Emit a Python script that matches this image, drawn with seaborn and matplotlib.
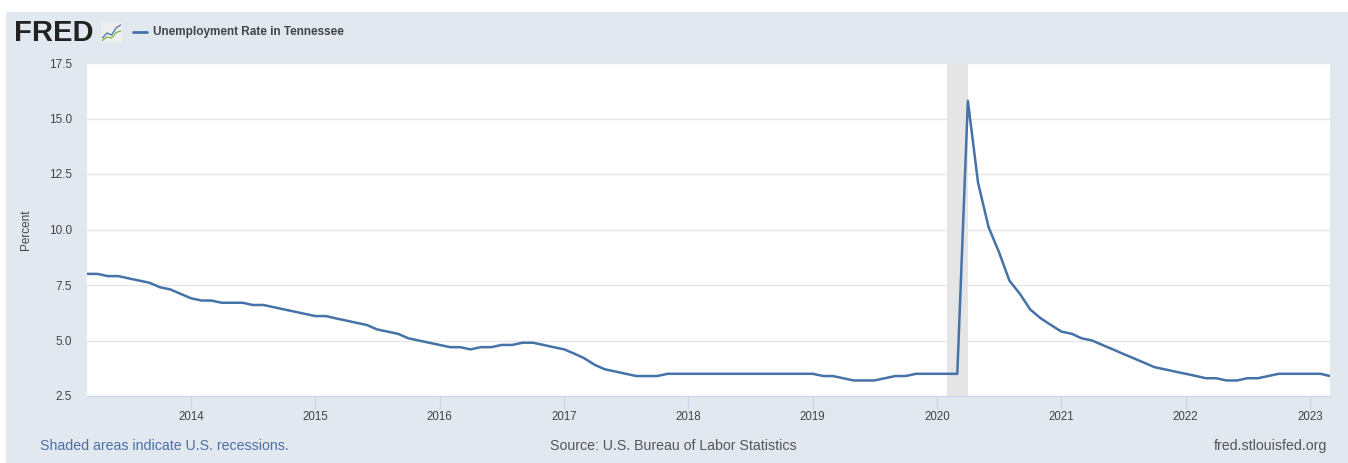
import numpy as np
import pandas as pd
import matplotlib.pyplot as plt
import matplotlib.dates as mdates
from matplotlib.patches import Rectangle
import seaborn as sns

# Monthly unemployment rate, Tennessee, Mar 2013 - Mar 2023 (percent)
start_month = '2013-03-01'
rate = [
    8.0, 8.0, 7.9, 7.9, 7.8, 7.7, 7.6, 7.4, 7.3, 7.1,            # 2013 Mar-Dec
    6.9, 6.8, 6.8, 6.7, 6.7, 6.7, 6.6, 6.6, 6.5, 6.4, 6.3, 6.2,  # 2014
    6.1, 6.1, 6.0, 5.9, 5.8, 5.7, 5.5, 5.4, 5.3, 5.1, 5.0, 4.9,  # 2015
    4.8, 4.7, 4.7, 4.6, 4.7, 4.7, 4.8, 4.8, 4.9, 4.9, 4.8, 4.7,  # 2016
    4.6, 4.4, 4.2, 3.9, 3.7, 3.6, 3.5, 3.4, 3.4, 3.4, 3.5, 3.5,  # 2017
    3.5, 3.5, 3.5, 3.5, 3.5, 3.5, 3.5, 3.5, 3.5, 3.5, 3.5, 3.5,  # 2018
    3.5, 3.4, 3.4, 3.3, 3.2, 3.2, 3.2, 3.3, 3.4, 3.4, 3.5, 3.5,  # 2019
    3.5, 3.5, 3.5, 15.8, 12.1, 10.1, 9.0, 7.7, 7.1, 6.4, 6.0, 5.7,  # 2020
    5.4, 5.3, 5.1, 5.0, 4.8, 4.6, 4.4, 4.2, 4.0, 3.8, 3.7, 3.6,  # 2021
    3.5, 3.4, 3.3, 3.3, 3.2, 3.2, 3.3, 3.3, 3.4, 3.5, 3.5, 3.5,  # 2022
    3.5, 3.5, 3.4,                                               # 2023 Jan-Mar
]
recession_start = '2020-02-01'
recession_end = '2020-04-01'
y_ticks = [2.5, 5.0, 7.5, 10.0, 12.5, 15.0, 17.5]
x_years = list(range(2014, 2024))

df = pd.DataFrame({
    'date': pd.date_range(start_month, periods=len(rate), freq='MS'),
    'rate': rate,
})

sns.set_style('white')
plt.rcParams['font.family'] = ['Liberation Sans', 'DejaVu Sans']

W, H = 1348, 463
fig = plt.figure(figsize=(W / 100, H / 100), dpi=100)
fig.patch.set_facecolor('white')
panel_color = '#e1e8f0'
fig.patches.append(Rectangle((6 / W, 0), 1, 1 - 12 / H, transform=fig.transFigure,
                             facecolor=panel_color, edgecolor='none', zorder=-10))

ax = fig.add_axes([87 / W, 1 - 396 / H, (1330 - 87) / W, (396 - 63) / H])
ax.set_facecolor('white')

ax.axvspan(pd.Timestamp(recession_start), pd.Timestamp(recession_end),
           color='#e5e5e5', zorder=0, lw=0)
sns.lineplot(data=df, x='date', y='rate', ax=ax, color='#4572a7', linewidth=1.8, zorder=3)

ax.set_xlim(df['date'].iloc[0], df['date'].iloc[-1])
ax.set_ylim(2.5, 17.5)
ax.set_yticks(y_ticks)
ax.set_yticklabels([f'{v:.1f}' for v in y_ticks])
ax.set_xticks([pd.Timestamp(f'{y}-01-01') for y in x_years])
ax.xaxis.set_major_formatter(mdates.DateFormatter('%Y'))
ax.grid(axis='y', color='#e6e6e6', linewidth=1)
ax.grid(axis='x', visible=False)
for s in ['top', 'right', 'left']:
    ax.spines[s].set_visible(False)
ax.spines['bottom'].set_color('#ccd6eb')
ax.tick_params(axis='x', length=9, width=1, color='#ccd6eb', labelsize=8.3,
               labelcolor='#444444', pad=2, bottom=True)
ax.tick_params(axis='y', length=0, labelsize=8.5, labelcolor='#444444', pad=11)
ax.set_xlabel('')
ax.set_ylabel('Percent', fontsize=8.5, color='#444444')
ax.yaxis.set_label_coords(-0.0442, 0.5)

# header
fig.text(14 / W, 1 - 33 / H, 'FRED', fontsize=21, fontweight='bold', color='#222222',
         va='center', ha='left')
icon = fig.add_axes([101 / W, 1 - 43 / H, 21 / W, 20 / H])
icon.set_facecolor('#eeeeee')
icon.plot([0, 1, 2, 3, 4], [1, 2, 1.6, 3, 3.6], color='#4572a7', lw=0.9)
icon.plot([0, 1, 2, 3, 4], [0.5, 1.2, 1.0, 2.1, 2.4], color='#7cb342', lw=0.9)
icon.set_xlim(-0.3, 4.3)
icon.set_ylim(0, 4)
icon.set_xticks([])
icon.set_yticks([])
for s in icon.spines.values():
    s.set_visible(False)
fig.lines.append(plt.Line2D([133 / W, 147 / W], [1 - 32 / H, 1 - 32 / H],
                            transform=fig.transFigure, color='#4572a7', lw=2))
fig.text(153 / W, 1 - 32 / H, 'Unemployment Rate in Tennessee', fontsize=8.5,
         fontweight='bold', color='#444444', va='center', ha='left')

# footer
fig.text(40 / W, 1 - 446 / H, 'Shaded areas indicate U.S. recessions.', fontsize=10.2,
         color='#4a6fa5', va='center', ha='left')
fig.text(673 / W, 1 - 446 / H, 'Source: U.S. Bureau of Labor Statistics', fontsize=10.2,
         color='#555555', va='center', ha='center')
fig.text(1327 / W, 1 - 446 / H, 'fred.stlouisfed.org', fontsize=10.2,
         color='#555555', va='center', ha='right')

fig.savefig('out.png', dpi=100)
